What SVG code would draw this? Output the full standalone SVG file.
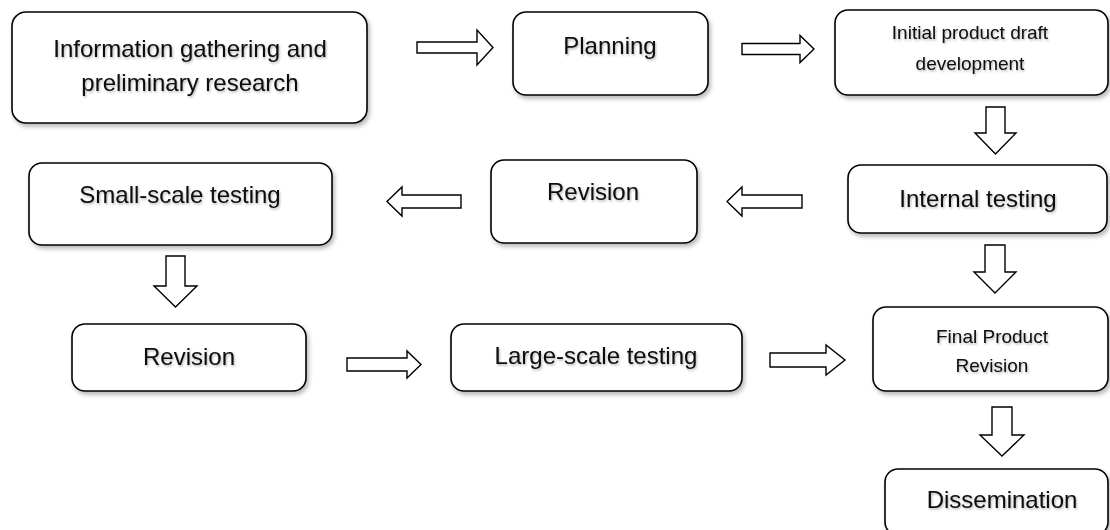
<svg xmlns="http://www.w3.org/2000/svg" width="1110" height="530" viewBox="0 0 1110 530">
<defs>
<filter id="sh" x="-10%" y="-10%" width="120%" height="130%">
<feDropShadow dx="2" dy="3" stdDeviation="2" flood-color="#000" flood-opacity="0.28"/>
</filter>
<filter id="tsh" x="-5%" y="-20%" width="110%" height="150%">
<feDropShadow dx="1" dy="1.5" stdDeviation="1" flood-color="#000" flood-opacity="0.3"/>
</filter>
</defs>
<style>
.box{fill:#fff;stroke:#000;stroke-width:1.6;filter:url(#sh)}
.arr{fill:#fff;stroke:#000;stroke-width:1.4;stroke-linejoin:miter}
text{font-family:"Liberation Sans",Arial,sans-serif;fill:#0a0a0a;text-anchor:middle;filter:url(#tsh)}
.big{font-size:24px}
.small{font-size:19px}
</style>
<rect width="1110" height="530" fill="#fff"/>
<g id="connectors">
<path class="arr" d="M417,42 H477 V30 L493,47.5 L477,65 V53 H417 Z"/>
<path class="arr" d="M742,43.5 H800 V35.5 L814,49 L800,62.5 V54.5 H742 Z"/>
<path class="arr" d="M986,107 H1005 V133 H1016 L995.5,154 L975,133 H986 Z"/>
<path class="arr" d="M985,245 H1005 V272 H1016 L995,293 L974,272 H985 Z"/>
<path class="arr" d="M802,195 H742 V187 L727,201.5 L742,216 V208 H802 Z"/>
<path class="arr" d="M461,195 H402 V187 L387,201.5 L402,216 V208 H461 Z"/>
<path class="arr" d="M166,256 H185 V286 H197 L175.5,307 L154,286 H166 Z"/>
<path class="arr" d="M347,358 H407 V351 L421,364.5 L407,378 V371 H347 Z"/>
<path class="arr" d="M770,353 H826 V345 L845,360 L826,375 V367 H770 Z"/>
<path class="arr" d="M992,407 H1012 V435 H1024 L1002,456 L980,435 H992 Z"/>
</g>
<g id="n1"><rect class="box" x="12" y="12" width="355" height="111" rx="14"/>
<text class="big" x="190" y="57">Information gathering and</text>
<text class="big" x="190" y="91">preliminary research</text></g>
<g id="n2"><rect class="box" x="513" y="12" width="195" height="83" rx="13"/>
<text class="big" x="610" y="54">Planning</text></g>
<g id="n3"><rect class="box" x="835" y="10" width="273" height="85" rx="13"/>
<text class="small" x="970" y="39">Initial product draft</text>
<text class="small" x="970" y="70">development</text></g>
<g id="n4"><rect class="box" x="848" y="165" width="259" height="68" rx="13"/>
<text class="big" x="978" y="207">Internal testing</text></g>
<g id="n5"><rect class="box" x="491" y="160" width="206" height="83" rx="13"/>
<text class="big" x="593" y="200">Revision</text></g>
<g id="n6"><rect class="box" x="29" y="163" width="303" height="82" rx="13"/>
<text class="big" x="180" y="203">Small-scale testing</text></g>
<g id="n7"><rect class="box" x="72" y="324" width="234" height="67" rx="13"/>
<text class="big" x="189" y="365">Revision</text></g>
<g id="n8"><rect class="box" x="451" y="324" width="291" height="67" rx="13"/>
<text class="big" x="596" y="364">Large-scale testing</text></g>
<g id="n9"><rect class="box" x="873" y="307" width="235" height="84" rx="13"/>
<text class="small" x="992" y="343">Final Product</text>
<text class="small" x="992" y="372">Revision</text></g>
<g id="n10"><rect class="box" x="885" y="469" width="223" height="66" rx="13"/>
<text class="big" x="1002" y="508">Dissemination</text></g>
</svg>
